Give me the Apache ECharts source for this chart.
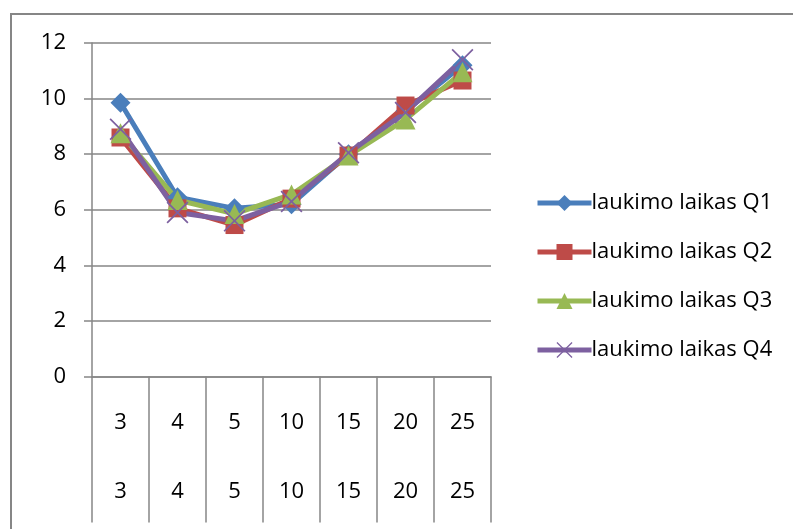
<!DOCTYPE html>
<html>
<head>
<meta charset="utf-8">
<script src="https://cdn.jsdelivr.net/npm/echarts@6/dist/echarts.min.js"></script>
<style>
  html, body { margin: 0; padding: 0; background: #fff; }
  #chart { width: 793px; height: 529px; }
</style>
</head>
<body>
<div id="chart"></div>
<script>
// Waiting time by group size, four quarters
const categories = ['3', '4', '5', '10', '15', '20', '25'];
const q1 = [9.85, 6.45, 6.05, 6.2, 8.0, 9.55, 11.2];
const q2 = [8.6, 6.05, 5.45, 6.4, 7.95, 9.75, 10.65];
const q3 = [8.75, 6.35, 5.85, 6.55, 7.95, 9.25, 10.95];
const q4 = [8.9, 5.9, 5.6, 6.3, 8.05, 9.5, 11.4];
const seriesNames = ['laukimo laikas Q1', 'laukimo laikas Q2', 'laukimo laikas Q3', 'laukimo laikas Q4'];
const yTicks = { min: 0, max: 12, interval: 2 };

const FONT = '"Open Sans"';
const GRAY = '#868686';
const colors = ['#4A7EBB', '#BE4B48', '#98B954', '#7D60A0'];
const crossPath = 'path://M0,1 L1,0 L9,8 L17,0 L18,1 L10,9 L18,17 L17,18 L9,10 L1,18 L0,17 L8,9 Z';
const symbols = ['diamond', 'rect', 'triangle', crossPath];
const symbolSizes = [20, 18, 20, 22];
const values = [q1, q2, q3, q4];

const chart = echarts.init(document.getElementById('chart'));

chart.setOption({
  animation: false,
  backgroundColor: '#fff',
  graphic: [{
    type: 'rect',
    shape: { x: 11, y: 14, width: 820, height: 600 },
    style: { fill: 'none', stroke: GRAY, lineWidth: 2 },
    silent: true
  }],
  grid: { left: 92, right: 302, top: 43, bottom: 152.5, containLabel: false },
  legend: {
    orient: 'vertical',
    left: 530,
    top: 187,
    itemWidth: 54,
    itemHeight: 20,
    itemGap: 27,
    lineStyle: { width: 5 },
    textStyle: { fontFamily: FONT, fontSize: 22, color: '#000', padding: [0, 0, 0, -5] },
    data: seriesNames
  },
  xAxis: {
    type: 'category',
    data: categories,
    boundaryGap: true,
    axisLine: { show: true, lineStyle: { color: GRAY, width: 1.5 } },
    axisTick: { show: true, interval: 0, length: 146, lineStyle: { color: GRAY, width: 1.5 } },
    axisLabel: {
      interval: 0,
      margin: 12,
      fontFamily: FONT,
      fontSize: 22,
      color: '#000',
      lineHeight: 69,
      formatter: v => v + '\n' + v
    },
    splitLine: { show: false }
  },
  yAxis: {
    type: 'value',
    min: yTicks.min,
    max: yTicks.max,
    interval: yTicks.interval,
    axisLine: { show: true, lineStyle: { color: GRAY, width: 1.5 } },
    axisTick: { show: true, inside: false, length: 8, lineStyle: { color: GRAY, width: 1.5 } },
    axisLabel: { margin: 26, fontFamily: FONT, fontSize: 22, color: '#000' },
    splitLine: { show: true, lineStyle: { color: GRAY, width: 1.5 } }
  },
  series: seriesNames.map((name, i) => ({
    name,
    type: 'line',
    data: values[i],
    symbol: symbols[i],
    symbolSize: symbolSizes[i],
    showAllSymbol: true,
    lineStyle: { color: colors[i], width: 5 },
    itemStyle: { color: colors[i], borderWidth: 0 },
    emphasis: { disabled: true }
  }))
});
</script>
</body>
</html>
